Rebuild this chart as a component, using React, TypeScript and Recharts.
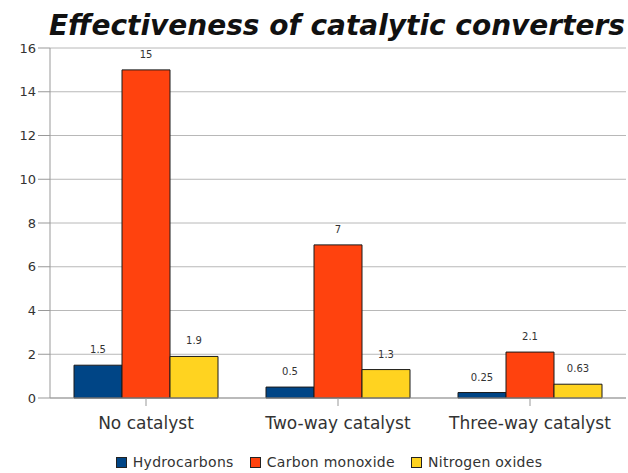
import { Bar, BarChart, CartesianGrid, LabelList, Legend, XAxis, YAxis } from "recharts";

const categories = ["No catalyst", "Two-way catalyst", "Three-way catalyst"];
const hydrocarbons = [1.5, 0.5, 0.25];
const carbonMonoxide = [15, 7, 2.1];
const nitrogenOxides = [1.9, 1.3, 0.63];
const yTicks = [0, 2, 4, 6, 8, 10, 12, 14, 16];

const series = ["Hydrocarbons", "Carbon monoxide", "Nitrogen oxides"];
const colors = ["#004586", "#ff420e", "#ffd320"];

const data = categories.map((name, i) => ({
    name,
    Hydrocarbons: hydrocarbons[i],
    "Carbon monoxide": carbonMonoxide[i],
    "Nitrogen oxides": nitrogenOxides[i],
}));

const font = "'DejaVu Sans', sans-serif";

function LegendBox() {
    return (
        <div style={{ display: "flex", justifyContent: "center", paddingTop: 14, paddingLeft: 48, fontFamily: font, fontSize: 14, letterSpacing: 0.3, color: "#333" }}>
            {series.map((s, i) => (
                <div key={s} style={{ display: "flex", alignItems: "center", marginRight: 16 }}>
                    <span style={{ width: 9, height: 9, background: colors[i], border: "1px solid #222", marginRight: 6, display: "inline-block" }} />
                    <span>{s}</span>
                </div>
            ))}
        </div>
    );
}

export default function App() {
    return (
        <div style={{ position: "absolute", left: 0, top: 0, width: 628, height: 473, background: "#fff", fontFamily: font }}>
            <div
                style={{
                    position: "absolute",
                    left: 46,
                    top: 9,
                    width: 582,
                    textAlign: "center",
                    fontSize: 28,
                    fontWeight: "bold",
                    fontStyle: "italic",
                    color: "#111",
                    zIndex: 2,
                }}
            >
                Effectiveness of catalytic converters
            </div>
            <BarChart
                width={628}
                height={473}
                data={data}
                margin={{ top: 48, right: 2, bottom: 0, left: 0 }}
                barGap={0}
                barCategoryGap="12.5%"
            >
                <CartesianGrid vertical={false} stroke="#b8b8b8" />
                <XAxis
                    dataKey="name"
                    height={42}
                    stroke="#999"
                    tick={{ fill: "#333", fontSize: 17, fontFamily: font }}
                    tickLine={{ stroke: "#999" }}
                    tickSize={8}
                    dy={9}
                />
                <YAxis
                    width={50}
                    domain={[0, 16]}
                    ticks={yTicks}
                    stroke="#999"
                    tick={{ fill: "#333", fontSize: 13, fontFamily: font }}
                    tickSize={12}
                    interval={0}
                />
                <Legend verticalAlign="bottom" height={33} content={() => <LegendBox />} />
                <Bar dataKey="Hydrocarbons" fill={colors[0]} stroke="#1a1a1a" strokeWidth={1} isAnimationActive={false}>
                    <LabelList dataKey="Hydrocarbons" position="top" offset={12} fill="#333" fontSize={10} fontFamily={font} />
                </Bar>
                <Bar dataKey="Carbon monoxide" fill={colors[1]} stroke="#1a1a1a" strokeWidth={1} isAnimationActive={false}>
                    <LabelList dataKey="Carbon monoxide" position="top" offset={12} fill="#333" fontSize={10} fontFamily={font} />
                </Bar>
                <Bar dataKey="Nitrogen oxides" fill={colors[2]} stroke="#1a1a1a" strokeWidth={1} isAnimationActive={false}>
                    <LabelList dataKey="Nitrogen oxides" position="top" offset={12} fill="#333" fontSize={10} fontFamily={font} />
                </Bar>
            </BarChart>
        </div>
    );
}
